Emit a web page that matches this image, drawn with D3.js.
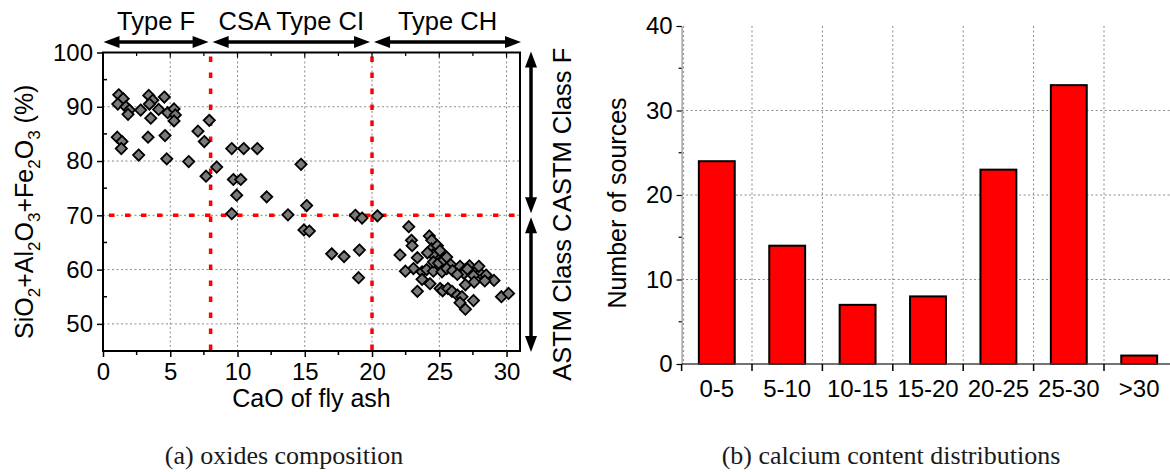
<!DOCTYPE html>
<html><head><meta charset="utf-8">
<script src="https://cdn.jsdelivr.net/npm/d3@7"></script>
<style>body{margin:0;background:#fff}svg{display:block}text{font-family:"Liberation Sans",Arial,sans-serif;fill:#000}</style>
</head><body>
<script>
// ---------- data ----------
const caoValues = [1.17,1.5,1.1,1.7,1.96,1.86,2.8,3.4,3.7,3.45,4.14,3.55,4.56,4.81,5.28,5.38,5.28,7.9,7.06,7.53,1.06,1.41,1.36,3.35,4.61,2.65,4.74,6.37,8.45,7.66,
 9.57,10.46,11.47,14.72,9.69,10.24,9.94,12.17,9.57,13.75,15.14,14.94,15.34,18.76,19.26,
 20.4,17.0,17.92,19.06,19.0,
 22.73,22.93,22.98,22.08,24.26,24.44,24.42,24.52,24.12,24.86,25.05,23.37,23.08,22.48,23.72,24.06,24.56,24.56,24.95,25.35,25.55,25.85,25.2,25.55,25.99,26.54,26.94,27.24,26.84,26.34,27.79,28.04,28.48,29.07,27.54,28.38,27.59,26.94,23.72,24.31,25.06,25.25,25.64,25.94,26.34,26.69,26.54,26.94,27.54,23.37,29.62,30.15,27.09,27.94];
const oxideSums = [92.2,91.5,90.5,90.0,89.4,88.6,89.4,92.1,91.2,90.5,89.5,87.9,91.8,88.9,89.6,88.5,87.4,87.5,85.5,83.6,84.4,83.6,82.3,84.4,84.7,81.1,80.4,79.9,78.9,77.2,
 82.3,82.3,82.3,79.4,76.6,76.6,73.7,73.4,70.3,70.1,71.8,67.3,67.1,70.0,69.5,
 69.9,62.9,62.4,63.6,58.5,
 67.9,65.4,64.4,62.7,66.2,65.4,63.8,62.7,63.1,64.4,63.5,62.2,60.2,59.7,59.6,60.0,59.7,61.4,61.2,61.8,62.3,60.9,59.6,60.2,59.8,60.6,60.0,60.7,59.3,59.1,59.9,59.3,59.0,58.0,58.9,57.9,57.7,57.2,58.2,57.4,56.5,56.1,56.5,56.0,55.3,55.0,53.9,52.7,54.3,56.0,55.0,55.6,60.1,60.6];
const xTicks = [0,5,10,15,20,25,30];
const yTicks = [50,60,70,80,90,100];
const zoneBounds = [0,8,20,31];
const zoneLabels = ["Type F","CSA Type CI","Type CH"];
const classLimit = 70;
const classLabels = ["ASTM Class F","ASTM Class C"];
const binLabels = ["0-5","5-10","10-15","15-20","20-25","25-30",">30"];
const binCounts = [24,14,7,8,23,33,1];
const barTicks = [0,10,20,30,40];

// ---------- setup ----------
const svg = d3.select("body").append("svg").attr("width",1170).attr("height",472);
const FS = 24;

// ================= Chart (a) =================
const x = d3.scaleLinear().domain([0,31]).range([103,520]);
const y = d3.scaleLinear().domain([45,100]).range([351,52.5]);
const ga = svg.append("g");

// grid
ga.append("g").selectAll("line").data(xTicks.filter(d=>d>0)).join("line")
  .attr("x1",d=>x(d)).attr("x2",d=>x(d)).attr("y1",y(100)).attr("y2",y(45))
  .attr("stroke","#8a8a8a").attr("stroke-width",1).attr("stroke-dasharray","2,2.5");
ga.append("g").selectAll("line").data(yTicks.filter(d=>d<100)).join("line")
  .attr("x1",x(0)).attr("x2",x(31)).attr("y1",d=>y(d)).attr("y2",d=>y(d))
  .attr("stroke","#8a8a8a").attr("stroke-width",1).attr("stroke-dasharray","2,2.5");

// red limit lines
ga.append("g").selectAll("line").data(zoneBounds.slice(1,3)).join("line")
  .attr("x1",d=>x(d)).attr("x2",d=>x(d)).attr("y1",y(100)+4).attr("y2",y(45))
  .attr("stroke","#ff0000").attr("stroke-width",3.5).attr("stroke-dasharray","5.5,10.5");
ga.append("line").attr("x1",x(0)+6).attr("x2",x(31)).attr("y1",y(classLimit)).attr("y2",y(classLimit))
  .attr("stroke","#ff0000").attr("stroke-width",3.5).attr("stroke-dasharray","5.5,10.5");

// points
const pts = caoValues.map((c,i)=>({c, s:oxideSums[i]}));
const r = 5.6;
ga.append("g").selectAll("path").data(pts).join("path")
  .attr("d",`M0,${-r}L${r},0L0,${r}L${-r},0Z`)
  .attr("transform",d=>`translate(${x(d.c)},${y(d.s)})`)
  .attr("fill","#7a7a7a").attr("stroke","#000").attr("stroke-width",1.8).attr("stroke-linejoin","miter");

// frame
ga.append("rect").attr("x",x(0)).attr("y",y(100)).attr("width",x(31)-x(0)).attr("height",y(45)-y(100))
  .attr("fill","none").attr("stroke","#000").attr("stroke-width",2);

// axes ticks
const xMinor = d3.range(0,31,2.5);
const gx = ga.append("g").attr("transform",`translate(0,${y(45)})`)
  .call(d3.axisBottom(x).tickValues(xTicks).tickSize(6).tickPadding(6).tickFormat(d3.format("d")));
gx.select(".domain").remove();
gx.selectAll(".tick line").attr("stroke","#000").attr("stroke-width",1.5);
gx.selectAll("text").attr("font-size",FS).attr("fill","#000");
ga.append("g").selectAll("line").data(xMinor.filter(d=>d%5!==0)).join("line")
  .attr("x1",d=>x(d)).attr("x2",d=>x(d)).attr("y1",y(45)).attr("y2",y(45)+4).attr("stroke","#000").attr("stroke-width",1.5);
// top ticks inward
ga.append("g").selectAll("line").data(xMinor.filter(d=>d>0)).join("line")
  .attr("x1",d=>x(d)).attr("x2",d=>x(d)).attr("y1",y(100)).attr("y2",d=>y(100)+(d%5===0?5:3.5)).attr("stroke","#000").attr("stroke-width",1.2);

const gy = ga.append("g").attr("transform",`translate(${x(0)},0)`)
  .call(d3.axisLeft(y).tickValues(yTicks).tickSize(6).tickPadding(4).tickFormat(d3.format("d")));
gy.select(".domain").remove();
gy.selectAll(".tick line").attr("stroke","#000").attr("stroke-width",1.5);
gy.selectAll("text").attr("font-size",FS).attr("fill","#000");
ga.append("g").selectAll("line").data([55,65,75,85,95]).join("line")
  .attr("x1",x(0)).attr("x2",x(0)+4).attr("y1",d=>y(d)).attr("y2",d=>y(d)).attr("stroke","#000").attr("stroke-width",1.5);

// axis titles
ga.append("text").attr("x",(x(0)+x(31))/2).attr("y",407).attr("text-anchor","middle").attr("font-size",25).text("CaO of fly ash");
const yt = ga.append("text").attr("transform",`translate(33,${(y(45)+y(100))/2+10}) rotate(-90)`).attr("text-anchor","middle").attr("font-size",25);
const parts = [["SiO",0],["2",1],["+Al",0],["2",1],["O",0],["3",1],["+Fe",0],["2",1],["O",0],["3",1],[" (%)",0]];
let shifted=false;
parts.forEach(([t,sub])=>{
  const ts = yt.append("tspan").text(t);
  if(sub){ts.attr("font-size",17).attr("dy",shifted?0:7);shifted=true;}
  else {ts.attr("dy",shifted?-7:0);shifted=false;}
});

// zone arrows on top
function hArrow(g,x1,x2,yy){
  const hl=16, hw=6;
  g.append("line").attr("x1",x1+hl-2).attr("x2",x2-hl+2).attr("y1",yy).attr("y2",yy).attr("stroke","#000").attr("stroke-width",3.5);
  g.append("path").attr("d",`M${x1},${yy}L${x1+hl},${yy-hw}L${x1+hl},${yy+hw}Z`).attr("fill","#000");
  g.append("path").attr("d",`M${x2},${yy}L${x2-hl},${yy-hw}L${x2-hl},${yy+hw}Z`).attr("fill","#000");
}
function vArrow(g,xx,y1,y2){
  const hl=16, hw=6;
  g.append("line").attr("x1",xx).attr("x2",xx).attr("y1",y1+hl-2).attr("y2",y2-hl+2).attr("stroke","#000").attr("stroke-width",3.5);
  g.append("path").attr("d",`M${xx},${y1}L${xx-hw},${y1+hl}L${xx+hw},${y1+hl}Z`).attr("fill","#000");
  g.append("path").attr("d",`M${xx},${y2}L${xx-hw},${y2-hl}L${xx+hw},${y2-hl}Z`).attr("fill","#000");
}
zoneLabels.forEach((lab,i)=>{
  const a = x(zoneBounds[i])+(i===0?0.5:2), b = x(zoneBounds[i+1])-(i===2?-1:2);
  hArrow(ga,a,b,42);
  ga.append("text").attr("x",(a+b)/2).attr("y",30).attr("text-anchor","middle").attr("font-size",25.5).text(lab);
});
// class arrows on right
const ax = x(31)+11;
vArrow(ga,ax,y(100)-1,y(classLimit)-2);
vArrow(ga,ax,y(classLimit)+2,y(45)+1);
ga.append("text").attr("transform",`translate(571,${(y(100)+y(classLimit))/2-4}) rotate(-90)`).attr("text-anchor","middle").attr("font-size",25.5).text(classLabels[0]);
ga.append("text").attr("transform",`translate(571,${(y(classLimit)+y(45))/2+14}) rotate(-90)`).attr("text-anchor","middle").attr("font-size",25.5).text(classLabels[1]);

// caption
svg.append("text").attr("x",284).attr("y",464).attr("text-anchor","middle").attr("font-size",26)
  .style("font-family","'Liberation Serif','Times New Roman',serif").style("fill","#1a1a1a").text("(a) oxides composition");

// ================= Chart (b) =================
const step = 70.4, x0 = 681.6;
const xb = d3.scaleBand().domain(binLabels).range([x0, x0+step*binLabels.length]).paddingInner(0.49).paddingOuter(0.245);
const yb = d3.scaleLinear().domain([0,40]).range([364,26]);
const gb = svg.append("g");

// grid
gb.append("g").selectAll("line").data(d3.range(0,binLabels.length+1)).join("line")
  .attr("x1",i=>x0+i*step+(i===0?2:0)).attr("x2",i=>x0+i*step+(i===0?2:0)).attr("y1",yb(40)).attr("y2",yb(0))
  .attr("stroke","#8a8a8a").attr("stroke-width",1).attr("stroke-dasharray","2,2.5");
gb.append("g").selectAll("line").data([10,20,30]).join("line")
  .attr("x1",x0).attr("x2",1170).attr("y1",d=>yb(d)).attr("y2",d=>yb(d))
  .attr("stroke","#8a8a8a").attr("stroke-width",1).attr("stroke-dasharray","2,2.5");

// bars
gb.append("g").selectAll("rect").data(binLabels.map((l,i)=>({l,v:binCounts[i]}))).join("rect")
  .attr("x",d=>xb(d.l)).attr("width",xb.bandwidth()).attr("y",d=>yb(d.v)).attr("height",d=>yb(0)-yb(d.v))
  .attr("fill","#ff0000").attr("stroke","#000").attr("stroke-width",2);

// y axis
const gyb = gb.append("g").attr("transform",`translate(${x0},0)`)
  .call(d3.axisLeft(yb).tickValues(barTicks).tickSize(5).tickPadding(4).tickFormat(d3.format("d")));
gyb.select(".domain").attr("stroke","#777").attr("stroke-width",1);
gyb.selectAll(".tick line").attr("stroke","#000").attr("stroke-width",1.2);
gyb.selectAll("text").attr("font-size",FS).attr("fill","#000");
gb.append("g").selectAll("line").data([5,15,25,35]).join("line")
  .attr("x1",x0-3).attr("x2",x0).attr("y1",d=>yb(d)).attr("y2",d=>yb(d)).attr("stroke","#000").attr("stroke-width",1.2);

// x axis
gb.append("line").attr("x1",x0).attr("x2",1170).attr("y1",yb(0)).attr("y2",yb(0)).attr("stroke","#444").attr("stroke-width",1.5);
gb.append("g").selectAll("line").data(d3.range(0,binLabels.length+1)).join("line")
  .attr("x1",i=>x0+i*step).attr("x2",i=>x0+i*step).attr("y1",yb(0)).attr("y2",yb(0)+7).attr("stroke","#000").attr("stroke-width",1.5);
gb.append("g").selectAll("text").data(binLabels).join("text")
  .attr("x",d=>xb(d)+xb.bandwidth()/2).attr("y",397).attr("text-anchor","middle").attr("font-size",FS).text(d=>d);

gb.append("text").attr("transform",`translate(626,${(yb(0)+yb(40))/2+8}) rotate(-90)`).attr("text-anchor","middle").attr("font-size",25).text("Number of sources");

svg.append("text").attr("x",891).attr("y",464).attr("text-anchor","middle").attr("font-size",26)
  .style("font-family","'Liberation Serif','Times New Roman',serif").style("fill","#1a1a1a").text("(b) calcium content distributions");
</script>
</body></html>
